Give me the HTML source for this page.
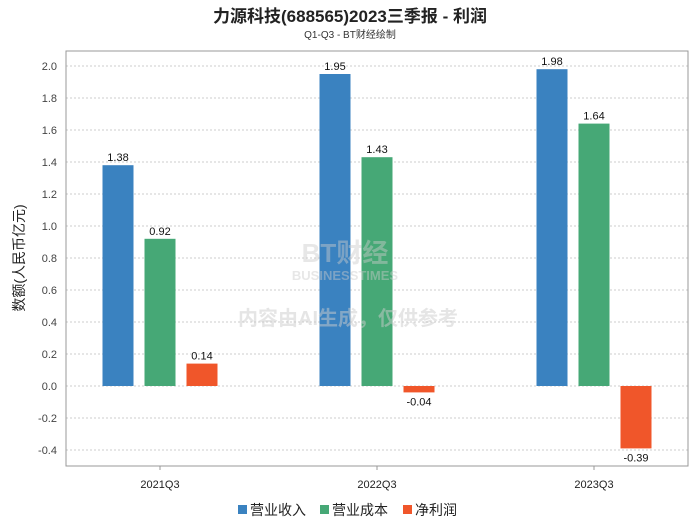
<!DOCTYPE html>
<html><head><meta charset="utf-8"><style>
body{margin:0;background:#fff;font-family:"Liberation Sans","Noto Sans CJK SC",sans-serif}
svg text{font-family:"Liberation Sans","Noto Sans CJK SC",sans-serif}
</style></head><body>
<svg id="c" width="700" height="524" xmlns="http://www.w3.org/2000/svg">
<text x="350" y="22" text-anchor="middle" font-size="17" font-weight="bold" fill="#222">力源科技(688565)2023三季报 - 利润</text>
<text x="350" y="38" text-anchor="middle" font-size="10" fill="#333">Q1-Q3 - BT财经绘制</text>
<g id="grid"></g>
<rect x="66" y="51" width="622" height="415" fill="none" stroke="#999"/>
<g id="bars"></g>
<text x="345" y="262" text-anchor="middle" font-size="26" font-weight="bold" fill="#ccc" opacity="0.45">BT财经</text>
<text x="345" y="280" text-anchor="middle" font-size="13" font-weight="bold" fill="#ccc" opacity="0.45">BUSINESSTIMES</text>
<text x="348" y="325" text-anchor="middle" font-size="20" font-weight="bold" fill="#ccc" opacity="0.5">内容由AI生成，仅供参考</text>
<text transform="translate(24,258) rotate(-90)" text-anchor="middle" font-size="14" fill="#222">数额(人民币亿元)</text>
<g>
<rect x="238" y="505" width="9" height="9" fill="#3a82c0"/>
<text x="250" y="515" font-size="14" fill="#222">营业收入</text>
<rect x="320" y="505" width="9" height="9" fill="#46a876"/>
<text x="332" y="515" font-size="14" fill="#222">营业成本</text>
<rect x="403" y="505" width="9" height="9" fill="#f0562a"/>
<text x="415" y="515" font-size="14" fill="#222">净利润</text>
</g>
</svg>
<script>
const categories=["2021Q3","2022Q3","2023Q3"];
const revenue=[1.38,1.95,1.98];
const cost=[0.92,1.43,1.64];
const profit=[0.14,-0.04,-0.39];
const yTicks=[-0.4,-0.2,0.0,0.2,0.4,0.6,0.8,1.0,1.2,1.4,1.6,1.8,2.0];
const NS="http://www.w3.org/2000/svg";
function y(v){return 386-v*160;}
function x(i){return 160+i*217;}
function mk(t,a,p){const e=document.createElementNS(NS,t);for(const k in a)e.setAttribute(k,a[k]);p.appendChild(e);return e;}
const g=document.getElementById('grid'),b=document.getElementById('bars');
yTicks.forEach(v=>{
 const l=mk('line',{x1:66,x2:688,y1:y(v),y2:y(v),stroke:'#ccc','stroke-dasharray':'2,2'},g);
 
 
 const t=mk('text',{x:57,y:y(v)+4,'text-anchor':'end','font-size':11,fill:'#444'},g);
 t.textContent=v.toFixed(1);
 
 
});
categories.forEach((c,i)=>{
 const tk=mk('line',{x1:x(i),x2:x(i),y1:466,y2:470,stroke:'#999'},g);
 
 
 const t=mk('text',{x:x(i),y:488,'text-anchor':'middle','font-size':11,fill:'#222'},g);
 t.textContent=c;
 
 
 [[revenue,'#3a82c0',-42,'revenue'],[cost,'#46a876',0,'cost'],[profit,'#f0562a',42,'profit']].forEach(([arr,col,off,nm])=>{
  const v=arr[i],cx=x(i)+off,top=Math.min(y(v),y(0)),h=Math.abs(y(v)-y(0));
  const r=mk('rect',{x:cx-15.5,y:top,width:31,height:Math.max(h,1),fill:col},b);
  
  
  const lt=mk('text',{x:cx,y:v>=0?y(v)-4:y(v)+13,'text-anchor':'middle','font-size':11,fill:'#111'},b);
  lt.textContent=v.toFixed(2);
  
  
 });
});
</script>
</body></html>
